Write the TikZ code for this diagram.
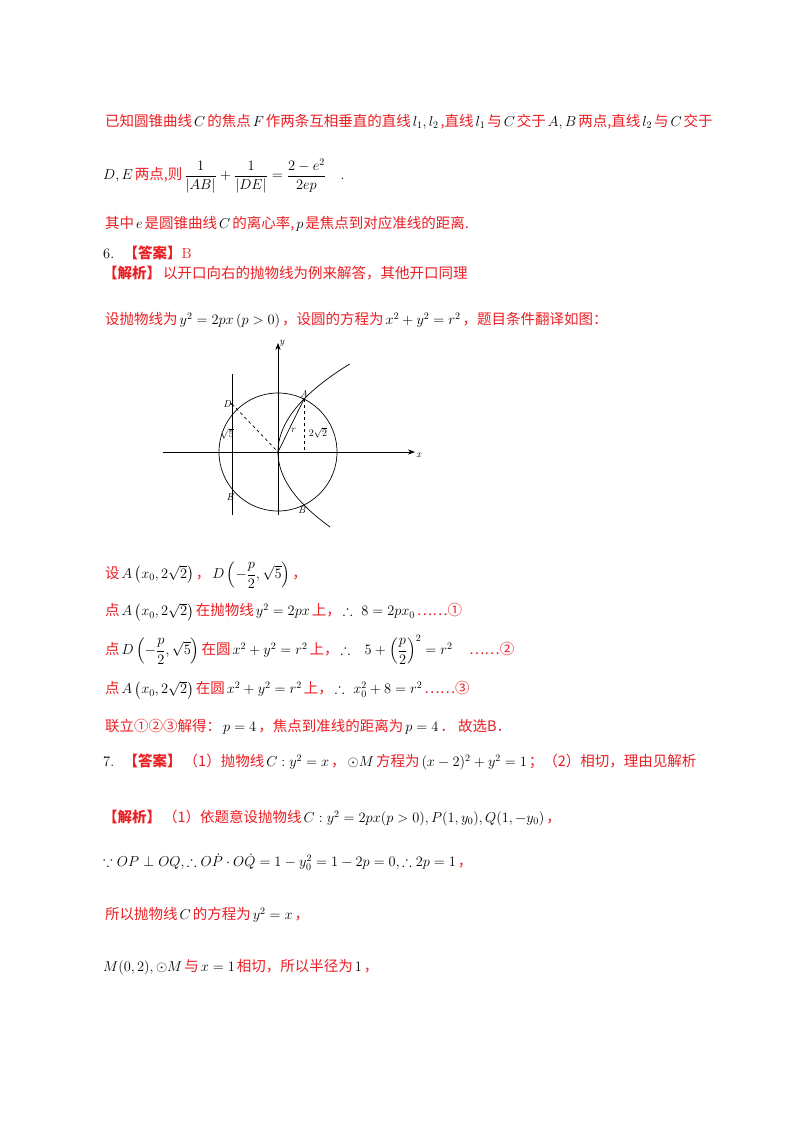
\documentclass[tikz,border=0pt]{standalone}
\usetikzlibrary{arrows.meta}
\usepackage{amsmath,amssymb}
\usepackage{fontspec}
\newfontfamily\cjk{Noto Sans CJK SC}
\definecolor{rd}{RGB}{235,30,35}
\newcommand{\zh}[1]{\hspace{2pt}{\cjk\color{rd}#1}\hspace{2pt}}
\newcommand{\zb}[1]{{\cjk\bfseries\color{rd}#1}}
\begin{document}
\begin{tikzpicture}[x=1pt,y=-1pt,
  txt/.style={anchor=west,inner sep=0pt,font=\fontsize{14.5}{17}\selectfont},
  ax/.style={line width=0.7pt,-{Stealth[length=7pt]}},
  cv/.style={line width=0.7pt},
  lab/.style={font=\fontsize{10}{11}\selectfont\itshape,inner sep=1pt}]
\useasboundingbox (0,0) rectangle (800,1132);
\node[txt] (l1) at (103,122) {\zh{已知圆锥曲线}$C$\zh{的焦点}$F$\zh{作两条互相垂直的直线}$l_1,l_2$\zh{,直线}$l_1$\zh{与}$C$\zh{交于}$A,B$\zh{两点,直线}$l_2$\zh{与}$C$\zh{交于}};
\node[txt] (l2) at (103,176) {$D,E$\zh{两点,则}$\dfrac{1}{|AB|}+\dfrac{1}{|DE|}=\dfrac{2-e^2}{2ep}$\quad.};
\node[txt] (l3) at (103,224) {\zh{其中}$e$\zh{是圆锥曲线}$C$\zh{的离心率,}$p$\zh{是焦点到对应准线的距离.}};
\node[txt] (l4) at (103,253) {6.\ \ \zb{【答案】}{\color{rd}B}};
\node[txt] (l5) at (103,273) {\zb{【解析】}\zh{以开口向右的抛物线为例来解答，其他开口同理}};
\node[txt] (l6) at (103,320) {\zh{设抛物线为}$y^2=2px\left(p>0\right)$\zh{，设圆的方程为}$x^2+y^2=r^2$\zh{，题目条件翻译如图：}};
% figure
\coordinate (O) at (278,452);
\draw[ax] (163,452) -- (415,452) node[lab,below right] (xl) {x};
\draw[ax] (278,515) -- (278,343) node[lab,right] (yl) {y};
\draw[cv] (O) circle (59);
\draw[cv] (232,374) -- (232,515);
\draw[cv,domain=-75:88,samples=80,variable=\t] plot ({278+\t*\t/108},{452-\t});
\coordinate (A) at (304,399);
\coordinate (D) at (232,404);
\coordinate (F) at (304,452);
\draw[cv] (O) -- (A);
\draw[cv,dashed] (D) -- (O);
\draw[cv,dashed] (A) -- (F);
\fill (A) circle (1.2); \fill (D) circle (1.2);
\node[lab,above] (An) at (A) {A};
\node[lab,left] (Dn) at (D) {D};
\node[lab] (En) at (230,497) {E};
\node[lab] (Bn) at (302,510) {B};
\node[lab] (rn) at (293,430) {r};
\node[lab,font=\fontsize{10}{11}\selectfont] (s5) at (227,434) {$\sqrt{5}$};
\node[lab,font=\fontsize{10}{11}\selectfont] (s2) at (318,433) {$2\sqrt{2}$};
% after figure
\node[txt] (l7) at (103,575) {\zh{设}$A\left(x_0,2\sqrt2\right)$\zh{，}$D\left(-\dfrac{p}{2},\sqrt5\right)$\zh{，}};
\node[txt] (l8) at (103,612) {\zh{点}$A\left(x_0,2\sqrt2\right)$\zh{在抛物线}$y^2=2px$\zh{上，}$\therefore\ 8=2px_0$\zh{……①}};
\node[txt] (l9) at (103,650) {\zh{点}$D\left(-\dfrac{p}{2},\sqrt5\right)$\zh{在圆}$x^2+y^2=r^2$\zh{上，}$\therefore$\quad$5+\left(\dfrac{p}{2}\right)^2=r^2$\quad\zh{……②}};
\node[txt] (l10) at (103,690) {\zh{点}$A\left(x_0,2\sqrt2\right)$\zh{在圆}$x^2+y^2=r^2$\zh{上，}$\therefore\ x_0^2+8=r^2$\zh{……③}};
\node[txt] (l11) at (103,727) {\zh{联立①②③解得：}$p=4$\zh{，焦点到准线的距离为}$p=4$\zh{．\ 故选B．}};
\node[txt] (l12) at (103,762) {7.\ \ \zb{【答案】}\zh{（1）抛物线}$C:y^2=x$\zh{，}$\odot M$\zh{方程为}$(x-2)^2+y^2=1$\zh{；（2）相切，理由见解析}};
\node[txt] (l13) at (103,818) {\zb{【解析】}\zh{（1）依题意设抛物线}$C:y^2=2px(p>0),P(1,y_0),Q(1,-y_0)$\zh{，}};
\node[txt] (l14) at (103,862) {$\because OP\perp OQ,\therefore O\dot{P}\cdot O\dot{Q}=1-y_0^2=1-2p=0,\therefore 2p=1$\zh{，}};
\node[txt] (l15) at (103,915) {\zh{所以抛物线}$C$\zh{的方程为}$y^2=x$\zh{，}};
\node[txt] (l16) at (103,967) {$M(0,2),\odot M$\zh{与}$x=1$\zh{相切，所以半径为}$1$\zh{，}};
\end{tikzpicture}
\end{document}
